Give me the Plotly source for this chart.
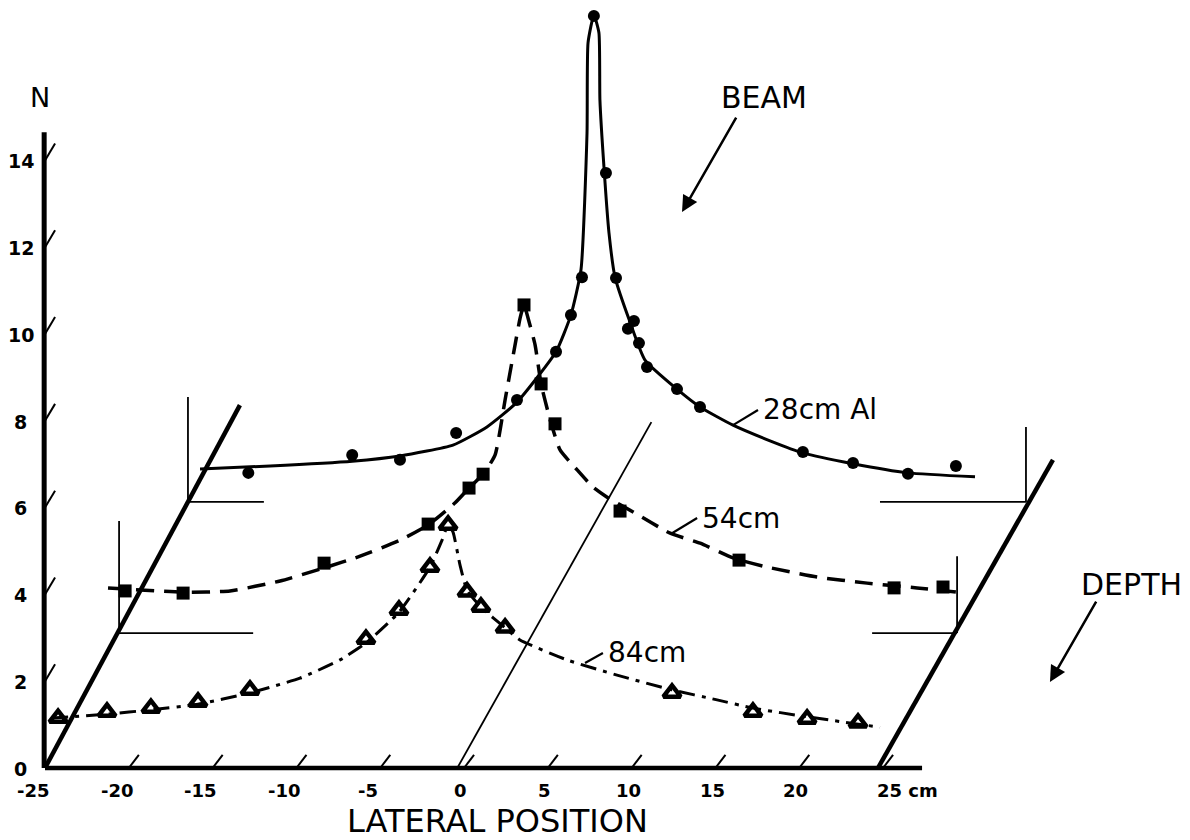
import plotly.graph_objects as go

# ---------------- data (each curve in its own depth plane: lateral cm, N) ----------------
# 28 cm Al  (filled circles, solid line)
lat_28 = [-21.4, -15.2, -12.35, -9.0, -5.37, -3.04, -2.15, -1.49, -0.78, -0.06, 0.54,
          1.25, 1.61, 1.91, 2.39, 4.18, 5.55, 11.69, 14.68, 17.96, 20.82]
n_28 = [0.67, 1.08, 0.97, 1.59, 2.35, 3.46, 4.31, 5.18, 11.2, 7.58, 5.16,
        3.99, 4.17, 3.66, 3.11, 2.60, 2.19, 1.15, 0.90, 0.65, 0.83]
lat_28_curve = [-24.28, -20.1, -15.2, -12.35, -9.19, -7.16, -5.37, -3.04, -2.15, -1.55, -1.19,
                -1.13, -0.78, -0.48, -0.42, -0.18, 0.12, 0.48, 1.37, 2.27, 4.18, 5.55, 7.52,
                9.73, 11.69, 14.68, 17.96, 21.96]
n_28_curve = [0.76, 0.83, 0.94, 1.06, 1.31, 1.73, 2.30, 3.46, 4.31, 5.35, 8.50,
              10.58, 11.22, 10.81, 9.26, 7.72, 6.20, 5.18, 4.15, 3.27, 2.60, 2.19, 1.77,
              1.41, 1.13, 0.88, 0.67, 0.58]

# 54 cm  (squares, dashed line)
lat_54 = [-24.64, -21.18, -12.77, -6.56, -4.12, -3.28, -0.84, 0.18, 1.01, 4.89, 11.99, 21.24, 24.16]
n_54 = [0.97, 0.92, 1.61, 2.51, 3.34, 3.66, 7.56, 5.74, 4.82, 2.81, 1.68, 1.04, 1.06]
lat_54_curve = [-25.66, -21.18, -18.38, -15.39, -12.77, -10.62, -8.23, -6.56, -4.95, -4.12, -3.28,
                -2.57, -1.97, -1.43, -1.07, -0.84, -0.60, -0.18, 0.18, 0.72, 1.31, 2.33, 3.28,
                4.12, 5.67, 7.88, 9.67, 11.63, 13.66, 16.65, 19.63, 22.61, 25.48]
n_54_curve = [1.04, 0.94, 0.97, 1.20, 1.50, 1.77, 2.14, 2.49, 3.00, 3.34, 3.66,
              4.10, 5.37, 6.52, 7.26, 7.56, 7.26, 6.64, 5.74, 4.91, 4.22, 3.76, 3.36,
              3.13, 2.79, 2.30, 2.07, 1.73, 1.52, 1.29, 1.15, 1.04, 0.92]

# 84 cm  (triangles, dash-dot line)
lat_84 = [-24.22, -21.3, -18.68, -15.87, -12.77, -5.85, -3.88, -2.03, -0.95, 0.18, 1.01, 2.45,
          12.41, 17.24, 20.47, 23.51]
n_84 = [1.15, 1.29, 1.38, 1.52, 1.80, 2.97, 3.64, 4.63, 5.60, 4.06, 3.71, 3.23,
        1.73, 1.29, 1.13, 1.04]
lat_84_curve = [-24.58, -21.3, -18.68, -15.87, -12.77, -9.79, -7.40, -5.85, -3.88, -2.03, -1.31,
                -0.95, -0.66, -0.24, 0.18, 1.01, 2.45, 3.34, 6.15, 9.13, 12.41, 15.10, 17.24,
                20.47, 24.82]
n_84_curve = [1.15, 1.24, 1.34, 1.47, 1.73, 2.07, 2.49, 2.88, 3.59, 4.63, 5.25,
              5.60, 5.44, 4.68, 4.10, 3.71, 3.23, 2.95, 2.49, 2.14, 1.80, 1.57, 1.38,
              1.18, 0.94]

x_ticks = [-25, -20, -15, -10, -5, 0, 5, 10, 15, 20, 25]
x_tick_text = ["-25", "-20", "-15", "-10", "-5", "0", "5", "10", "15", "20", "25 cm"]
y_ticks = [0, 2, 4, 6, 8, 10, 12, 14]
y_tick_text = ["0", "2", "4", "6", "8", "10", "12", "14"]

# ---------------- layout constants ----------------
FONT = "DejaVu Sans"
# oblique offset (lateral, N) of each depth plane relative to the front (84 cm) plane
SHIFT = {"28": (8.53, 6.13), "54": (4.42, 3.11), "84": (0.0, 0.0)}


def proj(lats, ns, key):
    dx, dy = SHIFT[key]
    return [v + dx for v in lats], [v + dy for v in ns]


fig = go.Figure()
shapes = []


def seg(x0, y0, x1, y1, w):
    shapes.append(dict(type="line", xref="x", yref="y", x0=x0, y0=y0, x1=x1, y1=y1,
                       line=dict(color="black", width=w)))


# front axes
seg(-25, 0, 27.33, 0, 4.5)          # lateral axis
seg(-25.05, 0, -25.05, 14.65, 5)    # N axis
for t in x_ticks[1:]:
    seg(t, 0, t + 0.6, 0.30, 2)
for t in y_ticks[1:]:
    seg(-25, t, -24.4, t + 0.39, 2)

# depth lines
seg(-25, 0, -25 + 11.63, 8.36, 4.5)
seg(-0.4, 0, -0.4 + 11.58, 7.97, 1.8)
seg(24.7, 0, 24.7 + 10.44, 7.10, 4.5)

# plane guide lines (baseline & end verticals) for 28 and 54 planes
for key, lft, lv, rgt, rv in [("28", -20.47, 2.42, 16.29, 1.73), ("54", -17.0, 2.58, 19.93, 1.77)]:
    dx, dy = SHIFT[key]
    seg(-25 + dx, dy, lft + dx, dy, 1.8)
    seg(-25 + dx, dy, -25 + dx, lv + dy, 1.8)
    seg(rgt + dx, dy, 25 + dx, dy, 1.8)
    seg(25 + dx, dy, 25 + dx, rv + dy, 1.8)

# curves
cx, cy = proj(lat_28_curve, n_28_curve, "28")
fig.add_trace(go.Scatter(x=cx, y=cy, mode="lines",
                         line=dict(color="black", width=3, shape="spline", smoothing=0.5),
                         hoverinfo="skip"))
cx, cy = proj(lat_54_curve, n_54_curve, "54")
fig.add_trace(go.Scatter(x=cx, y=cy, mode="lines",
                         line=dict(color="black", width=3.5, dash="18px,10px", shape="spline", smoothing=0.5),
                         hoverinfo="skip"))
cx, cy = proj(lat_84_curve, n_84_curve, "84")
fig.add_trace(go.Scatter(x=cx, y=cy, mode="lines",
                         line=dict(color="black", width=3, dash="16px,7px,4px,7px", shape="spline", smoothing=0.5),
                         hoverinfo="skip"))

# markers
mx, my = proj(lat_28, n_28, "28")
fig.add_trace(go.Scatter(x=mx, y=my, mode="markers", name="28cm Al",
                         marker=dict(symbol="circle", size=12, color="black")))
mx, my = proj(lat_54, n_54, "54")
fig.add_trace(go.Scatter(x=mx, y=my, mode="markers", name="54cm",
                         marker=dict(symbol="square", size=13, color="black")))
mx, my = proj(lat_84, n_84, "84")
fig.add_trace(go.Scatter(x=mx, y=my, mode="markers", name="84cm",
                         marker=dict(symbol="triangle-up-open", size=15, color="black",
                                     line=dict(width=4.5, color="black"))))

ann = []


def text(x, y, s, size, xanchor="center", yanchor="middle", bold=False):
    ann.append(dict(x=x, y=y, xref="x", yref="y", text=("<b>%s</b>" % s) if bold else s,
                    showarrow=False, xanchor=xanchor, yanchor=yanchor,
                    font=dict(family=FONT, size=size, color="black")))


# tick labels
for t, s in zip(x_ticks, x_tick_text):
    if s.endswith("cm"):
        text(t - 0.45, -0.51, s, 18, xanchor="left", bold=True)
    else:
        text(t - (0.7 if t < 0 else 0.2), -0.51, s, 18, bold=True)
for t, s in zip(y_ticks, y_tick_text):
    text(-26.45, t - 0.02, s, 19, bold=True)

text(-25.3, 15.44, "N", 27)
text(1.97, -1.22, "LATERAL POSITION", 32)
text(17.9, 15.44, "BEAM", 30)
text(39.8, 4.22, "DEPTH", 30)

# curve labels with leader lines
for key, l0, v0, l1, v1, lbl in [("28", 7.52, 1.77, 9.01, 2.12, "28cm Al"),
                                 ("54", 7.99, 2.30, 9.49, 2.65, "54cm"),
                                 ("84", 7.22, 2.42, 8.29, 2.65, "84cm")]:
    dx, dy = SHIFT[key]
    seg(l0 + dx, v0 + dy, l1 + dx, v1 + dy, 2.2)
    text(l1 + dx + 0.2, v1 + dy, lbl, 28, xanchor="left")

# arrows
for tipx, tipy, tailx, taily in [(13.01, 12.81, 16.29, 15.02), (34.96, 1.98, 37.77, 3.87)]:
    ann.append(dict(x=tipx, y=tipy, ax=tailx, ay=taily, xref="x", yref="y", axref="x", ayref="y",
                    text="", showarrow=True, arrowhead=2, arrowsize=1.3, arrowwidth=2.5,
                    arrowcolor="black"))

fig.update_layout(
    width=1190, height=840, margin=dict(l=0, r=0, t=0, b=0), autosize=False,
    paper_bgcolor="white", plot_bgcolor="white", showlegend=False,
    xaxis=dict(range=[-27.685, 43.317], visible=False, fixedrange=True),
    yaxis=dict(range=[-1.659, 17.696], visible=False, fixedrange=True),
    shapes=shapes, annotations=ann,
)

fig.write_html("out.html")
